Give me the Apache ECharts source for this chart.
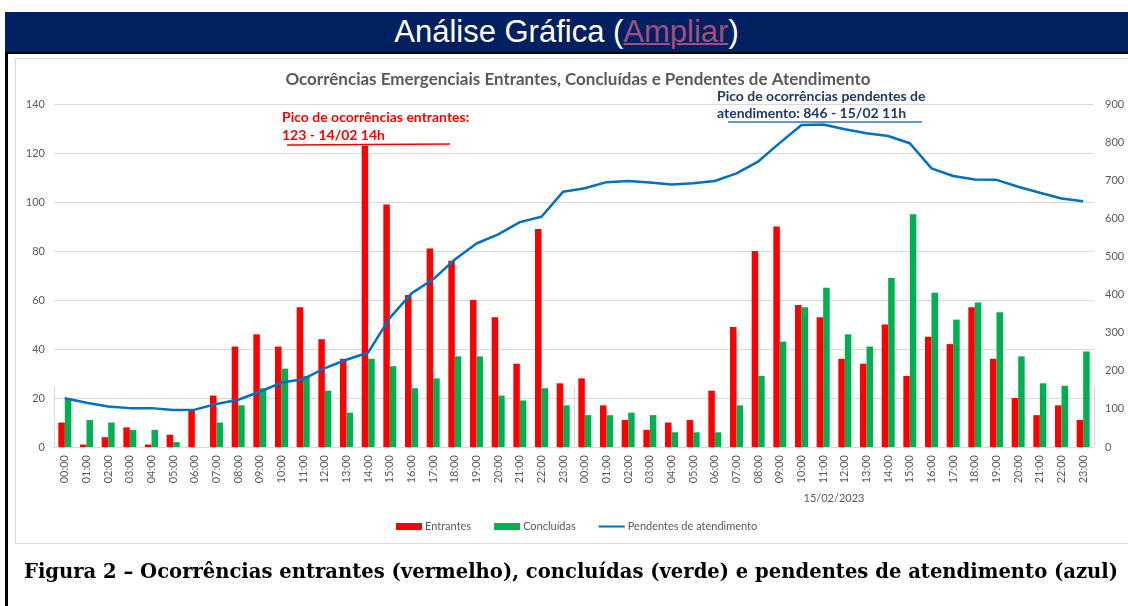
<!DOCTYPE html>
<html>
<head>
<meta charset="utf-8">
<script src="https://cdn.jsdelivr.net/npm/echarts@6/dist/echarts.min.js"></script>
<style>
  html, body { margin: 0; padding: 0; background: #ffffff; }
  #page { position: relative; width: 1128px; height: 606px; overflow: hidden; background: #fff; }
  #header { position: absolute; left: 5px; top: 12px; width: 1123px; height: 40px; background: #002060;
            color: #ffffff; font-family: "Liberation Sans", Arial, sans-serif; font-size: 31px; line-height: 40px; text-align: center; }
  #header span { color: #a0507a; text-decoration: underline; text-decoration-thickness: 2px; }
  #topline { position: absolute; left: 5px; top: 52px; width: 1123px; height: 2px; background: #000; }
  #leftline { position: absolute; left: 5px; top: 52px; width: 3px; height: 554px; background: #000; }
  #box { position: absolute; left: 15px; top: 58px; width: 1130px; height: 486px; border: 1px solid #d9d9d9; box-sizing: border-box; }
  #chart { position: absolute; left: 0; top: 0; width: 1128px; height: 606px; }
  #caption { position: absolute; left: 24px; top: 559px; white-space: nowrap; font-family: "DejaVu Serif", "Liberation Serif", serif;
             font-weight: bold; font-size: 20px; line-height: 24px; color: #000; transform-origin: left top; }
</style>
</head>
<body>
<div id="page">
  <div id="box"></div>
  <div id="chart"></div>
  <div id="header">Análise Gráfica (<span>Ampliar</span>)</div>
  <div id="topline"></div>
  <div id="leftline"></div>
  <div id="caption">Figura 2 – Ocorrências entrantes (vermelho), concluídas (verde) e pendentes de atendimento (azul)</div>
</div>
<script>
// ---- data ----
const hourLabels = ['00:00','01:00','02:00','03:00','04:00','05:00','06:00','07:00','08:00','09:00','10:00','11:00',
                    '12:00','13:00','14:00','15:00','16:00','17:00','18:00','19:00','20:00','21:00','22:00','23:00'];
const dayLabels = ['', '15/02/2023'];
const entrantes14 = [10,1,4,8,1,5,15,21,41,46,41,57,44,36,123,99,62,81,76,60,53,34,89,26];
const entrantes15 = [28,17,11,7,10,11,23,49,80,90,58,53,36,34,50,29,45,42,57,36,20,13,17,11];
const concluidas14 = [20,11,10,7,7,2,0,10,17,24,32,29,23,14,36,33,24,28,37,37,21,19,24,17];
const concluidas15 = [13,13,14,13,6,6,6,17,29,43,57,65,46,41,69,95,63,52,59,55,37,26,25,39];
const pendentes14 = [128,116,106,102,102,97,98,113,124,145,169,178,207,229,248,339,403,440,492,534,558,590,604,670];
const pendentes15 = [679,695,698,694,689,692,698,718,749,798,845,846,834,823,816,797,731,711,702,701,683,667,652,645];
const leftTicks = [0, 140, 20];
const rightTicks = [0, 900, 100];

// fit caption width
(function(){
  const c = document.getElementById('caption');
  const w = c.getBoundingClientRect().width;
  c.style.transform = 'scaleX(' + (1094 / w) + ')';
})();

const categories = hourLabels.concat(hourLabels);
const entrantes = entrantes14.concat(entrantes15);
const concluidas = concluidas14.concat(concluidas15);
const pendentes = pendentes14.concat(pendentes15);

const FONT = 'Lato, "Open Sans", sans-serif';
const GRAY = '#595959';
const GRID = '#d9d9d9';

const chart = echarts.init(document.getElementById('chart'), null, { renderer: 'canvas' });
chart.setOption({
  animation: false,
  backgroundColor: 'transparent',
  textStyle: { fontFamily: FONT },
  title: {
    text: 'Ocorrências Emergenciais Entrantes, Concluídas e Pendentes de Atendimento',
    left: 573, top: 66, textAlign: 'center',
    textStyle: { fontFamily: FONT, fontSize: 17, fontWeight: 'bold', color: GRAY }
  },
  legend: {
    left: 391, top: 516,
    itemWidth: 26, itemHeight: 7, itemGap: 23,
    textStyle: { fontFamily: FONT, fontSize: 11, color: GRAY, padding: [0, 0, 0, -2] },
    data: [
      { name: 'Entrantes', icon: 'rect' },
      { name: 'Concluídas', icon: 'rect' },
      { name: 'Pendentes de atendimento', icon: 'path://M0,0L0.01,0L0.01,0.01Z M0,2.5L26,2.5L26,4.5L0,4.5Z M26,7L25.99,7L25.99,6.99Z' }
    ]
  },
  grid: { left: 54, right: 34, top: 104, bottom: 159 },
  xAxis: [
    {
      type: 'category', data: categories, position: 'bottom',
      axisLine: { lineStyle: { color: GRID, width: 1 } },
      axisTick: { show: false },
      axisLabel: { rotate: 90, margin: 8, fontFamily: FONT, fontSize: 11, color: GRAY, interval: 0 }
    },
    {
      type: 'category', data: dayLabels, position: 'bottom', offset: 61, gridIndex: 0,
      axisLine: { show: false },
      axisTick: { show: true, inside: true, length: 61, lineStyle: { color: GRID } },
      axisLabel: { inside: true, margin: 4, fontFamily: FONT, fontSize: 11, color: GRAY }
    }
  ],
  yAxis: [
    {
      type: 'value', min: leftTicks[0], max: leftTicks[1], interval: leftTicks[2],
      axisLine: { show: false }, axisTick: { show: false },
      axisLabel: { margin: 9, fontFamily: FONT, fontSize: 11, color: GRAY },
      splitLine: { lineStyle: { color: GRID, width: 1 } }
    },
    {
      type: 'value', min: rightTicks[0], max: rightTicks[1], interval: rightTicks[2],
      axisLine: { show: false }, axisTick: { show: false },
      axisLabel: { margin: 11, fontFamily: FONT, fontSize: 11, color: GRAY },
      splitLine: { show: false }
    }
  ],
  series: [
    { name: 'Entrantes', type: 'bar', data: entrantes, xAxisIndex: 0, yAxisIndex: 0,
      itemStyle: { color: '#ff0000' }, barGap: '0%', barCategoryGap: '40%' },
    { name: 'Concluídas', type: 'bar', data: concluidas, xAxisIndex: 0, yAxisIndex: 0,
      itemStyle: { color: '#00b050' }, barGap: '0%', barCategoryGap: '40%' },
    { name: 'Pendentes de atendimento', type: 'line', data: pendentes, xAxisIndex: 0, yAxisIndex: 1,
      symbol: 'none', showSymbol: false, lineStyle: { color: '#0070c0', width: 2.5 }, itemStyle: { color: '#0070c0' }, z: 5 }
  ],
  graphic: [
    { type: 'text', left: 282, top: 108, style: { text: 'Pico de ocorrências entrantes:\n123 - 14/02 14h',
      fill: '#ff0000', font: 'bold 14px ' + FONT, lineHeight: 18 } },
    { type: 'line', shape: { x1: 287, y1: 145, x2: 450, y2: 144 }, style: { stroke: '#ff0000', lineWidth: 1.5 } },
    { type: 'text', left: 717, top: 88, style: { text: 'Pico de ocorrências pendentes de\natendimento: 846 - 15/02 11h',
      fill: '#1f3864', font: 'bold 14px ' + FONT, lineHeight: 17 } },
    { type: 'line', shape: { x1: 728, y1: 122, x2: 922, y2: 122 }, style: { stroke: '#2e75b6', lineWidth: 1.5 } }
  ]
});
</script>
</body>
</html>
